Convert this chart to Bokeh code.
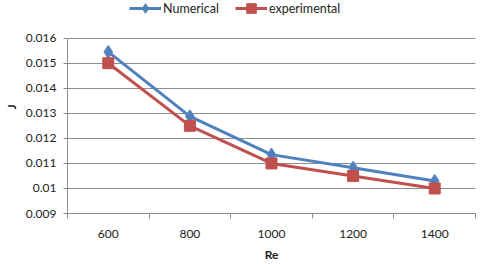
from bokeh.plotting import figure
from bokeh.models import FixedTicker, Range1d, Legend, LegendItem, ColumnDataSource
from bokeh.embed import file_html
from bokeh.resources import INLINE

categories = ["600", "800", "1000", "1200", "1400"]
numerical = [0.01545, 0.01288, 0.01135, 0.01083, 0.0103]
experimental = [0.0150, 0.0125, 0.0110, 0.0105, 0.0100]
y_ticks = [0.009, 0.010, 0.011, 0.012, 0.013, 0.014, 0.015, 0.016]
y_tick_labels = ["0.009", "0.01", "0.011", "0.012", "0.013", "0.014", "0.015", "0.016"]

FONT = "Lato"
BLUE = "#4F81BD"
RED = "#C0504D"
GRID = "#8C8C8C"

# frame extends up to the top edge so the legend (drawn inside the frame) fits above the grid
PLOT_TOP_PX = 38.0
PLOT_H_PX = 177.0
y_lo, y_hi = y_ticks[0], y_ticks[-1]
y_top = y_hi + PLOT_TOP_PX * (y_hi - y_lo) / PLOT_H_PX

xs = [i + 0.5 for i in range(len(categories))]
src = ColumnDataSource(dict(x=xs, num=numerical, exp=experimental, cat=categories))

p = figure(width=480, height=264, output_backend="svg", toolbar_location=None,
           x_range=Range1d(0, len(categories)), y_range=Range1d(y_lo, y_top),
           min_border_left=65, min_border_right=5, min_border_top=0, min_border_bottom=49)
p.outline_line_color = None
p.background_fill_color = "white"
p.border_fill_color = "white"

# x axis: labels at category centres, tick marks at boundaries
p.xaxis.ticker = FixedTicker(ticks=xs, minor_ticks=list(range(len(categories) + 1)))
p.xaxis.major_label_overrides = {x: c for x, c in zip(xs, categories)}
p.xaxis.major_tick_line_color = None
p.xaxis.major_tick_out = 0
p.xaxis.major_tick_in = 0
p.xaxis.minor_tick_line_color = GRID
p.xaxis.minor_tick_out = 5
p.xaxis.minor_tick_in = 0
p.xaxis.axis_line_color = GRID
p.xaxis.major_label_standoff = 11
p.xaxis.axis_label = "Re"
p.xaxis.axis_label_text_font_style = "bold"
p.xaxis.axis_label_standoff = 6
p.xgrid.grid_line_color = None

p.yaxis.ticker = FixedTicker(ticks=y_ticks, minor_ticks=[])
p.yaxis.major_label_overrides = {v: s for v, s in zip(y_ticks, y_tick_labels)}
p.yaxis.bounds = (y_lo, y_hi)
p.yaxis.major_tick_line_color = GRID
p.yaxis.major_tick_out = 4
p.yaxis.major_tick_in = 0
p.yaxis.axis_line_color = GRID
p.yaxis.major_label_standoff = 7
p.yaxis.axis_label = "J"
p.yaxis.axis_label_text_font_style = "bold"
p.yaxis.axis_label_standoff = 4
p.ygrid.grid_line_color = GRID
p.ygrid.grid_line_width = 1

for ax in (p.xaxis, p.yaxis):
    ax.major_label_text_font = FONT
    ax.major_label_text_font_size = "12px"
    ax.major_label_text_color = "#222222"
    ax.axis_label_text_font = FONT
    ax.axis_label_text_font_size = "12px"
    ax.axis_label_text_color = "#222222"

l1 = p.line("x", "num", source=src, line_color=BLUE, line_width=3)
m1 = p.scatter("x", "num", source=src, marker="diamond", size=13, fill_color=BLUE, line_color=BLUE)
l2 = p.line("x", "exp", source=src, line_color=RED, line_width=3)
m2 = p.scatter("x", "exp", source=src, marker="square", size=11, fill_color=RED, line_color=RED)

legend = Legend(items=[LegendItem(label="Numerical", renderers=[l1, m1]),
                       LegendItem(label="experimental", renderers=[l2, m2])],
                location=(62, 193), orientation="horizontal",
                glyph_width=32, glyph_height=24, label_height=14, label_standoff=2,
                spacing=16, padding=0, margin=0,
                border_line_color=None, background_fill_alpha=0,
                label_text_font=FONT, label_text_font_size="12.5px", label_text_color="#222222")
p.add_layout(legend, "center")

open("out.html", "w").write(file_html(p, INLINE))
